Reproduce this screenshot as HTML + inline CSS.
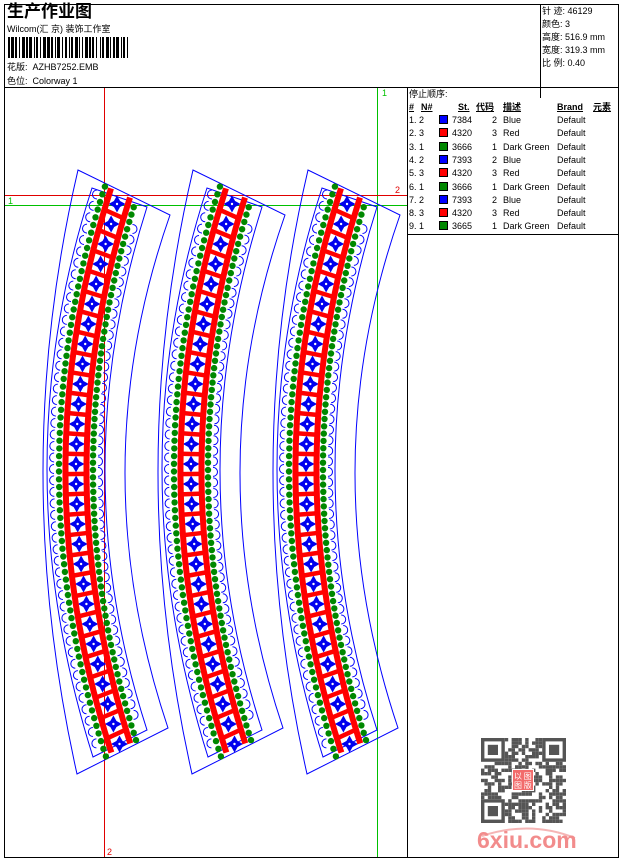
<!DOCTYPE html>
<html><head><meta charset="utf-8">
<style>
html,body{margin:0;padding:0;background:#fff;}
body{width:620px;height:860px;position:relative;overflow:hidden;font-family:"Liberation Sans","Noto Sans CJK SC",sans-serif;font-size:9px;color:#000;}
.t{position:absolute;white-space:nowrap;line-height:1;}
.ln{position:absolute;background:#000;}
svg{position:absolute;left:0;top:0;}
</style></head><body>
<svg id="s" width="620" height="860" viewBox="0 0 620 860"></svg>

<div class="ln" style="left:4px;top:4px;width:615px;height:1px"></div>
<div class="ln" style="left:4px;top:857px;width:615px;height:1px"></div>
<div class="ln" style="left:4px;top:4px;width:1px;height:854px"></div>
<div class="ln" style="left:618px;top:4px;width:1px;height:854px"></div>
<div class="ln" style="left:4px;top:87px;width:615px;height:1px"></div>
<div class="ln" style="left:540px;top:4px;width:1px;height:94px"></div>
<div class="ln" style="left:407px;top:87px;width:1px;height:771px"></div>
<div class="ln" style="left:407px;top:234px;width:212px;height:1px"></div>

<div class="t" style="left:7px;top:3px;font-size:17px;font-weight:bold;">生产作业图</div>
<div class="t" style="left:7px;top:25px;font-size:9px;">Wilcom(汇 京) 装饰工作室</div>
<div id="bc" style="position:absolute;left:8px;top:37px;width:122px;height:21px;"></div>
<div class="t" style="left:7px;top:63px;font-size:9px;">花版:&nbsp; AZHB7252.EMB</div>
<div class="t" style="left:7px;top:77px;font-size:9px;">色位:&nbsp; Colorway 1</div>

<div class="t" style="left:542px;top:7px;">针 迹: 46129</div>
<div class="t" style="left:542px;top:20px;">颜色: 3</div>
<div class="t" style="left:542px;top:33px;">高度: 516.9 mm</div>
<div class="t" style="left:542px;top:46px;">宽度: 319.3 mm</div>
<div class="t" style="left:542px;top:59px;">比 例: 0.40</div>

<div class="t" style="left:409px;top:90px;">停止顺序:</div>
<div class="t" style="left:409px;top:103px;font-weight:bold;text-decoration:underline;">#</div>
<div class="t" style="left:421px;top:103px;font-weight:bold;text-decoration:underline;">N#</div>
<div class="t" style="left:458px;top:103px;font-weight:bold;text-decoration:underline;">St.</div>
<div class="t" style="left:476px;top:103px;font-weight:bold;text-decoration:underline;">代码</div>
<div class="t" style="left:503px;top:103px;font-weight:bold;text-decoration:underline;">描述</div>
<div class="t" style="left:557px;top:103px;font-weight:bold;text-decoration:underline;">Brand</div>
<div class="t" style="left:593px;top:103px;font-weight:bold;text-decoration:underline;">元素</div>
<div id="rows"></div>

<div class="t" style="left:382px;top:89px;color:#00c000;">1</div>
<div class="t" style="left:8px;top:197px;color:#00c000;">1</div>
<div class="t" style="left:395px;top:186px;color:#e00000;">2</div>
<div class="t" style="left:107px;top:848px;color:#e00000;">2</div>

<div class="t" style="left:477px;top:829px;font-size:23px;font-weight:bold;color:#f28c8c;">6xiu.com</div>

<script>
var S=document.getElementById('s'),h='';
function el(t,a){var s='<'+t;for(var k in a)s+=' '+k+'="'+a[k]+'"';return s+'/>';}
h+=el('line',{x1:104.5,y1:88,x2:104.5,y2:858,stroke:'#e00000','stroke-width':1});
h+=el('line',{x1:377.5,y1:88,x2:377.5,y2:858,stroke:'#00c000','stroke-width':1});
h+=el('line',{x1:4,y1:195.5,x2:407,y2:195.5,stroke:'#e00000','stroke-width':1});
h+=el('line',{x1:4,y1:205.5,x2:407,y2:205.5,stroke:'#00c000','stroke-width':1});
var k=0.00058,Y0=470;
function P(o,y,d,tf){var s=2*k*(y-Y0);var cx=76+o+k*(y-Y0)*(y-Y0);var ss=s*(tf||1);var n=Math.sqrt(1+ss*ss);return [cx+d/n,y-d*ss/n];}
function q(a,m,b){return 'M'+a[0]+','+a[1]+' Q'+(2*m[0]-(a[0]+b[0])/2)+','+(2*m[1]-(a[1]+b[1])/2)+' '+b[0]+','+b[1];}
function f(v){return v.toFixed(1);}
for(var i=0;i<3;i++){
 var o=i*115,B='#0000ff';
 var TL=[78+o,170],TR=[170+o,215],BR=[168+o,728],BL=[77+o,774];
 h+='<path d="'+q(TL,[43+o,470],BL)+' L'+BR[0]+','+BR[1]+' '+q(BR,[125+o,470],TR).replace('M','L')+' Z" fill="none" stroke="'+B+'" stroke-width="1"/>';
 var tl=[92+o,188],tr=[147+o,207],br=[147+o,730],bl=[93+o,757];
 h+='<path d="'+q(tl,[47+o,470],bl)+' L'+br[0]+','+br[1]+' '+q(br,[105+o,470],tr).replace('M','L')+' Z" fill="none" stroke="'+B+'" stroke-width="1"/>';
 for(var y=205;y<=748;y+=11){
  var a=P(o,y,-25,1.5),b=P(o,y+3,25,1.5);
  if(y<740)h+='<path d="M'+f(a[0]+3)+','+f(a[1]-4.5)+' a4.5,4.5 0 1,0 0,9" fill="none" stroke="'+B+'" stroke-width="1"/>';
  if(y>212&&y<730)h+='<path d="M'+f(b[0]-3)+','+f(b[1]-4.5)+' a4.5,4.5 0 1,1 0,9" fill="none" stroke="'+B+'" stroke-width="1"/>';
 }
 for(var y=194;y<=752;y+=7.5){
  var a=P(o,y,-17,1.5),b=P(o,y+6,17,1.5);
  h+=el('circle',{cx:f(a[0]),cy:f(a[1]),r:3.2,fill:'#008800'});
  if(y<742)h+=el('circle',{cx:f(b[0]),cy:f(b[1]),r:3.2,fill:'#008800'});
 }
 for(var y=204;y<745;y+=20){
  var c=P(o,y,0,1.5);var x=c[0],yy=c[1];
  h+='<path d="M'+f(x)+','+f(yy-7)+' L'+f(x+2.5)+','+f(yy-2.5)+' L'+f(x+7)+','+f(yy)+' L'+f(x+2.5)+','+f(yy+2.5)+' L'+f(x)+','+f(yy+7)+' L'+f(x-2.5)+','+f(yy+2.5)+' L'+f(x-7)+','+f(yy)+' L'+f(x-2.5)+','+f(yy-2.5)+'Z" fill="#0000ee" stroke="#0000ee" stroke-width="1.5"/>';
  h+=el('circle',{cx:f(x),cy:f(yy),r:1.2,fill:'#fff'});
 }
 var l='',r='';
 for(var y=193;y<=750;y+=5){var a=P(o,y,-10.5,1.5),b=P(o,y,10.5,1.5);l+=(l?'L':'M')+f(a[0])+','+f(a[1]);r+=(r?'L':'M')+f(b[0])+','+f(b[1]);}
 h+='<path d="'+l+'" fill="none" stroke="#ff0000" stroke-width="6"/><path d="'+r+'" fill="none" stroke="#ff0000" stroke-width="6"/>';
 for(var y=214;y<745;y+=20){var a=P(o,y,-10.5,1.5),b=P(o,y,10.5,1.5);h+=el('line',{x1:f(a[0]),y1:f(a[1]),x2:f(b[0]),y2:f(b[1]),stroke:'#ff0000','stroke-width':4.5});}
}
var qx=481,qy=738,cs=3.4,N=25,seed=7;
function rnd(){seed=(seed*9301+49297)%233280;return seed/233280;}
h+='<g fill="#555">';
for(var r=0;r<N;r++)for(var c=0;c<N;c++){
 var fd=(r<7&&c<7)||(r<7&&c>=N-7)||(r>=N-7&&c<7);
 if(fd)continue;
 if(rnd()<0.5)h+=el('rect',{x:f(qx+c*cs),y:f(qy+r*cs),width:cs,height:cs});
}
[[0,0],[0,N-7],[N-7,0]].forEach(function(p){var x=qx+p[1]*cs,y=qy+p[0]*cs;
 h+='<rect x="'+x+'" y="'+y+'" width="'+7*cs+'" height="'+7*cs+'"/><rect x="'+(x+cs)+'" y="'+(y+cs)+'" width="'+5*cs+'" height="'+5*cs+'" fill="#fff"/><rect x="'+(x+2*cs)+'" y="'+(y+2*cs)+'" width="'+3*cs+'" height="'+3*cs+'"/>';});
h+='</g><rect x="512" y="769" width="22" height="22" fill="#fff"/><rect x="513" y="770" width="20" height="20" fill="#f26b6b"/>';
h+='<text x="514" y="779" font-size="8" fill="#fff" font-family="Noto Sans CJK SC,sans-serif">以 图</text><text x="514" y="788" font-size="8" fill="#fff" font-family="Noto Sans CJK SC,sans-serif">图 版</text>';
h+='<path d="M482,836 Q530,820 575,838" fill="none" stroke="#f5b5b5" stroke-width="2"/>';
S.innerHTML=h;
var bc='',x=0,ws=[2,1,3,1,2,2,1,2,3,1,2,1,3,2,1,1,2,2,1,2,3,1,3,1,2,2,1,1,3,2,1,2,2,2,1,1,2,2,3,1,1,2,1,2,3,1,2,1,2,2,1,3,1,1,2,2,3,1,1,2,2,1,3,2,1,1,2,2,1,2];
for(var i=0;x<121;i++){var w=ws[i%ws.length];if(i%2==0)bc+='<div style="position:absolute;left:'+x+'px;top:0;width:'+w+'px;height:21px;background:#000"></div>';x+=w;}
document.getElementById('bc').innerHTML=bc;
var R=[['1. 2','#0000ff','7384','2','Blue'],['2. 3','#ff0000','4320','3','Red'],['3. 1','#008800','3666','1','Dark Green'],['4. 2','#0000ff','7393','2','Blue'],['5. 3','#ff0000','4320','3','Red'],['6. 1','#008800','3666','1','Dark Green'],['7. 2','#0000ff','7393','2','Blue'],['8. 3','#ff0000','4320','3','Red'],['9. 1','#008800','3665','1','Dark Green']];
var rh='';R.forEach(function(r,i){var y=116+i*13.3;
 rh+='<div class="t" style="left:409px;top:'+y+'px">'+r[0]+'</div>';
 rh+='<div style="position:absolute;left:439px;top:'+(y-1)+'px;width:9px;height:9px;background:'+r[1]+';border:1px solid #000;box-sizing:border-box"></div>';
 rh+='<div class="t" style="left:452px;top:'+y+'px">'+r[2]+'</div>';
 rh+='<div class="t" style="left:492px;top:'+y+'px">'+r[3]+'</div>';
 rh+='<div class="t" style="left:503px;top:'+y+'px">'+r[4]+'</div>';
 rh+='<div class="t" style="left:557px;top:'+y+'px">Default</div>';});
document.getElementById('rows').innerHTML=rh;
</script>
</body></html>
